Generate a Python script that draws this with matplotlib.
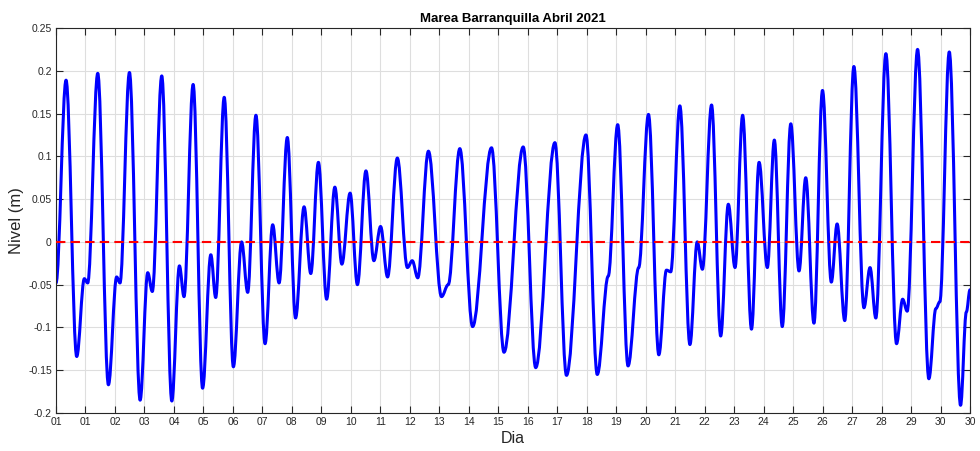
import numpy as np
import matplotlib.pyplot as plt
from matplotlib.path import Path
from matplotlib.patches import PathPatch

plt.rcParams['font.family'] = ['Liberation Sans', 'DejaVu Sans']

# tiempo en dias desde 01-abr-2021 00:00 y nivel (m), extremos
dias = [0.00, 0.33, 0.68, 0.93, 1.04, 1.37, 1.72, 1.99, 2.10, 2.41,
        2.76, 3.01, 3.16, 3.47, 3.80, 4.05, 4.20, 4.50, 4.81, 5.08,
        5.24, 5.52, 5.82, 6.09, 6.29, 6.56, 6.86, 7.11, 7.32, 7.59,
        7.86, 8.14, 8.36, 8.61, 8.88, 9.15, 9.38, 9.65, 9.89, 10.17,
        10.43, 10.65, 10.88, 11.20, 11.53, 11.69, 11.87, 12.22, 12.65, 12.87,
        13.25, 13.67, 14.29, 14.70, 15.33, 15.74, 16.37, 16.75, 17.39, 17.76,
        18.12, 18.43, 18.77, 19.12, 19.44, 19.78, 20.03, 20.17, 20.47,
        20.80, 21.04, 21.21, 21.51, 21.81, 22.06, 22.28, 22.53, 22.82, 23.07,
        23.34, 23.57, 23.83, 24.11, 24.38, 24.60, 24.87, 25.15, 25.44, 25.63,
        25.88, 26.18, 26.51, 26.71, 26.90, 27.23, 27.58, 27.78, 27.93, 28.27,
        28.64, 28.87, 29.00, 29.31, 29.68, 29.87, 29.99]
nivel = [-0.048, 0.189, -0.134, -0.043, -0.048, 0.197, -0.167, -0.041, -0.048, 0.198,
         -0.185, -0.036, -0.058, 0.194, -0.186, -0.028, -0.064, 0.184, -0.171, -0.015,
         -0.065, 0.169, -0.146, 0.000, -0.059, 0.148, -0.119, 0.020, -0.048, 0.122,
         -0.089, 0.041, -0.037, 0.093, -0.067, 0.064, -0.026, 0.057, -0.050, 0.083,
         -0.022, 0.018, -0.041, 0.098, -0.030, -0.022, -0.042, 0.106, -0.064, -0.050,
         0.109, -0.099, 0.110, -0.129, 0.111, -0.147, 0.116, -0.156, 0.125, -0.155,
         -0.040, 0.137, -0.145, -0.030, 0.149, -0.132, -0.033, -0.035, 0.159,
         -0.120, 0.000, -0.032, 0.160, -0.110, 0.044, -0.030, 0.148, -0.102, 0.093,
         -0.030, 0.119, -0.099, 0.138, -0.034, 0.075, -0.095, 0.177, -0.047, 0.021,
         -0.092, 0.205, -0.077, -0.030, -0.089, 0.220, -0.119, -0.067, -0.081, 0.225,
         -0.160, -0.078, -0.070, 0.222, -0.191, -0.082, -0.056]

etiquetas_x = ['01', '01', '02', '03', '04', '05', '06', '07', '08', '09',
               '10', '11', '12', '13', '14', '15', '16', '17', '18', '19',
               '20', '21', '22', '23', '24', '25', '26', '27', '28', '29',
               '30', '30']
valores_y = [-0.2, -0.15, -0.1, -0.05, 0, 0.05, 0.1, 0.15, 0.2, 0.25]
etiquetas_y = ['-0.2', '-0.15', '-0.1', '-0.05', '0', '0.05', '0.1', '0.15', '0.2', '0.25']

fin = dias[-1]
gris = '#262626'

fig = plt.figure(figsize=(9.8, 4.51), dpi=100)
ax = fig.add_axes([56/980, 38/451, 914/980, 385/451])

# curva suave entre extremos (bezier con tangente horizontal en cada extremo)
verts = [(dias[0], nivel[0])]
codes = [Path.MOVETO]
for i in range(len(dias) - 1):
    dt = dias[i+1] - dias[i]
    verts += [(dias[i] + 0.36*dt, nivel[i]), (dias[i+1] - 0.36*dt, nivel[i+1]),
              (dias[i+1], nivel[i+1])]
    codes += [Path.CURVE4] * 3
ax.add_patch(PathPatch(Path(verts, codes), fill=False, edgecolor='b', lw=2.2,
                       joinstyle='round', capstyle='round', zorder=2))
ax.axhline(0, color='r', lw=1.5, ls='--', dashes=(4.5, 2.5), zorder=3)

ax.set_xlim(0, fin)
ax.set_ylim(-0.2, 0.25)
ax.set_xticks(np.linspace(0, fin, len(etiquetas_x)))
ax.set_xticklabels(etiquetas_x)
ax.set_yticks(valores_y)
ax.set_yticklabels(etiquetas_y)

ax.grid(True, color='#dedede', lw=0.8)
ax.set_axisbelow(True)
ax.tick_params(direction='in', length=4.7, width=0.8, colors=gris, labelsize=7.5,
               top=True, right=True, pad=3)
for s in ax.spines.values():
    s.set_color(gris)
    s.set_linewidth(0.8)

ax.set_xlabel('Dia', fontsize=11.5, color=gris, labelpad=3)
ax.set_ylabel('Nivel (m)', fontsize=12, color=gris, labelpad=3)
ax.set_title('Marea Barranquilla Abril 2021', fontsize=9.5, fontweight='bold', pad=4)

fig.savefig('out.png', dpi=100)
